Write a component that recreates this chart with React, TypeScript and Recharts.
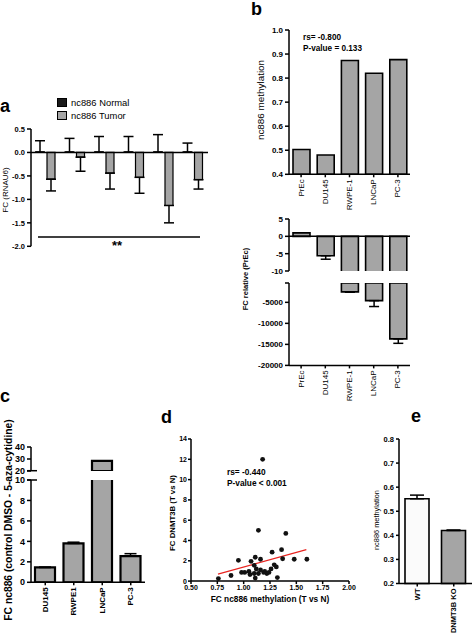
import React from 'react';
import {
  BarChart, Bar, XAxis, YAxis, ErrorBar, ReferenceLine,
  ScatterChart, Scatter, Cell,
} from 'recharts';

// ---------------- data ----------------
// panel a
const aGroups = ['1', '2', '3', '4', '5', '6'];
const aNormal = [0.01, 0.01, 0.01, 0.01, 0.01, 0.01];
const aNormalErr = [0.24, 0.29, 0.33, 0.33, 0.37, 0.19];
const aTumor = [-0.57, -0.10, -0.44, -0.53, -1.13, -0.58];
const aTumorErr = [0.25, 0.30, 0.34, 0.34, 0.37, 0.20];
const aTicks = [0.5, 0, -0.5, -1, -1.5, -2];

// panel b
const bLines = ['PrEc', 'DU145', 'RWPE-1', 'LNCaP', 'PC-3'];
const bMeth = [0.503, 0.48, 0.873, 0.82, 0.877];
const bMethTicks = [0.4, 0.5, 0.6, 0.7, 0.8, 0.9, 1.0];
const bFC = [1.0, -5.6, -2500, -4600, -13700];
const bFCErr = [0, 1.0, 80, 1400, 1050];
const bTopTicks = [-10, -5, 0, 5];
const bBreakTop = -400;
const bBottomTicks = [-20000, -15000, -10000, -5000, bBreakTop];

// panel c
const cLines = ['DU145', 'RWPE1', 'LNCaP', 'PC-3'];
const cFC = [1.45, 3.8, 28.5, 2.55];
const cFCErr = [0.03, 0.12, 0.2, 0.25];
const cTopTicks = [20, 30, 40];
const cBottomTicks = [0, 2, 4, 6, 8, 10];

// panel d
const dMeth = [1.18, 1.14, 1.40, 1.36, 1.27, 1.48, 1.60, 1.37, 1.16, 1.11, 1.07, 0.95, 1.29, 1.10, 1.31, 1.16, 1.12, 1.26, 0.98, 1.01, 1.06, 1.10, 1.14, 1.19, 1.22, 1.24, 0.88, 1.32, 1.11, 0.76, 1.20, 1.05];
const dDnmt = [12.0, 5.0, 4.7, 3.1, 2.85, 2.15, 2.15, 2.2, 2.15, 2.35, 1.95, 2.05, 1.6, 1.55, 1.4, 1.1, 1.2, 1.2, 0.85, 0.85, 0.65, 0.75, 0.75, 0.85, 0.75, 0.85, 0.55, 0.35, 0.3, 0.25, 0.95, 0.95];
const dFit = [{ x: 0.756, y: 0.69 }, { x: 1.595, y: 3.09 }];
const dTicksX = [0.5, 0.75, 1.0, 1.25, 1.5, 1.75, 2.0];
const dTicksY = [0, 2, 4, 6, 8, 10, 12, 14];

// panel e
const eGroups = ['WT', 'DNMT3B KO'];
const eMeth = [0.552, 0.42];
const eErr = [0.015, 0.002];
const eTicks = [0.2, 0.3, 0.4, 0.5, 0.6, 0.7, 0.8];

// ---------------- style helpers ----------------
const FONT = '"Liberation Sans", Arial, Helvetica, sans-serif';
const GRAY = '#a5a5a5';
const AX = { stroke: '#000', strokeWidth: 1.5 };

function box(x0: number, y0: number, x1: number, y1: number, yw: number, xh: number, mb = 0, mt = 8, mr = 8) {
  return {
    left: x0 - yw,
    top: y0 - mt,
    width: x1 - x0 + yw + mr,
    height: y1 - y0 + mt + xh + mb,
    margin: { top: mt, right: mr, bottom: mb, left: 0 },
  };
}

const tickStyle = (fs: number, bold = true) => ({
  fontSize: fs, fontWeight: bold ? 'bold' : 'normal', fill: '#000', fontFamily: FONT,
});

function RotTick(props: any) {
  const { x, y, payload, fs, bold } = props;
  return (
    <text
      x={x}
      y={y}
      transform={`rotate(-90 ${x} ${y})`}
      textAnchor="end"
      dominantBaseline="central"
      fontSize={fs}
      fontWeight={bold ? 'bold' : 'normal'}
      fontFamily={FONT}
      fill="#000"
    >
      {payload.value}
    </text>
  );
}

const Pos = ({ b, children }: any) => (
  <div style={{ position: 'absolute', left: b.left, top: b.top }}>{children}</div>
);

function VLabel({ x, y, text, fs, bold }: any) {
  return (
    <text
      x={x}
      y={y}
      transform={`rotate(-90 ${x} ${y})`}
      textAnchor="middle"
      dominantBaseline="central"
      fontSize={fs}
      fontWeight={bold ? 'bold' : 'normal'}
      fontFamily={FONT}
      fill="#000"
    >
      {text}
    </text>
  );
}

export default function App() {
  // panel a
  const aData = aGroups.map((g, i) => ({
    name: g,
    normal: aNormal[i],
    normalErr: [0, aNormalErr[i]],
    tumor: aTumor[i],
    tumorErr: [aTumorErr[i], 0],
  }));
  const A = box(31, 129, 208, 246.3, 30, 0, 8);

  // panel b
  const bTopData = bLines.map((n, i) => ({ name: n, v: bMeth[i] }));
  const B1 = box(289, 30, 410, 174.3, 30, 40);
  const bUpData = bLines.map((n, i) => ({
    name: n,
    v: bFC[i],
    err: bFC[i] >= bTopTicks[0] && bFCErr[i] > 0 ? [bFCErr[i], 0] : undefined,
  }));
  const B2 = box(289, 219, 410, 271, 30, 0, 6);
  const bLowData = bLines.map((n, i) => ({
    name: n,
    v: bFC[i] < bBreakTop ? bFC[i] : null,
    err: bFC[i] < bBreakTop && bFCErr[i] > 0 ? [bFCErr[i], 0] : undefined,
  }));
  const B3 = box(289, 283.3, 410, 365.7, 40, 45);

  // panel c
  const cUpData = cLines.map((n, i) => ({ name: n, v: cFC[i] >= cTopTicks[0] ? cFC[i] : null }));
  const C1 = box(31, 446.7, 145, 470.7, 30, 0, 6);
  const cLowData = cLines.map((n, i) => ({
    name: n,
    v: cFC[i],
    err: cFC[i] <= cBottomTicks[cBottomTicks.length - 1] ? [0, cFCErr[i]] : undefined,
  }));
  const C2 = box(31, 480, 145, 582.3, 30, 45);

  // panel d
  const dData = dMeth.map((x, i) => ({ x, y: dDnmt[i] }));
  const D = box(190.7, 438.6, 348.7, 580.7, 25, 16);

  // panel e
  const eData = eGroups.map((n, i) => ({ name: n, v: eMeth[i], err: [0, eErr[i]] }));
  const E = box(399, 438.5, 472, 583, 30, 50);

  return (
    <div
      style={{
        position: 'absolute', left: 0, top: 0, width: 473, height: 633,
        background: '#fff', overflow: 'hidden', fontFamily: FONT,
      }}
    >
      {/* ---------- a ---------- */}
      <Pos b={A}>
        <BarChart width={A.width} height={A.height} margin={A.margin} data={aData} barSize={8} barGap={3}>
          <XAxis dataKey="name" hide />
          <YAxis
            type="number" domain={[-2, 0.5]} ticks={aTicks} width={30} interval={0}
            tickFormatter={(v: number) => v.toFixed(1)} tick={tickStyle(7.5)}
            tickSize={4} axisLine={AX} tickLine={AX}
          />
          <Bar dataKey="normal" fill="#1a1a1a" stroke="#000" isAnimationActive={false}>
            <ErrorBar dataKey="normalErr" width={5} stroke="#000" strokeWidth={1.5} />
          </Bar>
          <Bar dataKey="tumor" fill={GRAY} stroke="#000" strokeWidth={1.2} isAnimationActive={false}>
            <ErrorBar dataKey="tumorErr" width={5} stroke="#000" strokeWidth={1.5} />
          </Bar>
          <ReferenceLine y={0} stroke="#000" strokeWidth={1.5} />
        </BarChart>
      </Pos>

      {/* ---------- b top ---------- */}
      <Pos b={B1}>
        <BarChart width={B1.width} height={B1.height} margin={B1.margin} data={bTopData} barSize={17}>
          <XAxis
            dataKey="name" interval={0} height={40} tickSize={3} axisLine={AX} tickLine={AX}
            tick={(p: any) => <RotTick {...p} fs={8} />}
          />
          <YAxis
            type="number" domain={[0.4, 1]} ticks={bMethTicks} width={30} interval={0}
            tickFormatter={(v: number) => v.toFixed(1)} tick={tickStyle(8)}
            tickSize={4} axisLine={AX} tickLine={AX}
          />
          <Bar dataKey="v" fill={GRAY} stroke="#000" strokeWidth={1.6} isAnimationActive={false} />
        </BarChart>
      </Pos>

      {/* ---------- b bottom, upper segment ---------- */}
      <Pos b={B2}>
        <BarChart width={B2.width} height={B2.height} margin={B2.margin} data={bUpData} barSize={17}>
          <XAxis dataKey="name" hide />
          <YAxis
            type="number" domain={[-10, 5]} ticks={bTopTicks} width={30} interval={0} allowDataOverflow
            tick={tickStyle(8)} tickSize={4} axisLine={AX} tickLine={AX}
          />
          <Bar dataKey="v" fill={GRAY} stroke="#000" strokeWidth={1.6} isAnimationActive={false}>
            <ErrorBar dataKey="err" width={5} stroke="#000" strokeWidth={1.5} />
          </Bar>
          <ReferenceLine y={0} stroke="#000" strokeWidth={1.5} />
        </BarChart>
      </Pos>

      {/* ---------- b bottom, lower segment ---------- */}
      <Pos b={B3}>
        <BarChart width={B3.width} height={B3.height} margin={B3.margin} data={bLowData} barSize={17}>
          <XAxis
            dataKey="name" interval={0} height={45} tickSize={3} axisLine={AX} tickLine={AX}
            tick={(p: any) => <RotTick {...p} fs={8} />}
          />
          <YAxis
            type="number" domain={[-20000, bBreakTop]} ticks={bBottomTicks} width={40} interval={0}
            allowDataOverflow tickFormatter={(v: number) => (v === bBreakTop ? '' : String(v))}
            tick={tickStyle(8)} tickSize={4} axisLine={AX} tickLine={AX}
          />
          <Bar dataKey="v" fill={GRAY} stroke="#000" strokeWidth={1.6} isAnimationActive={false}>
            <ErrorBar dataKey="err" width={5} stroke="#000" strokeWidth={1.5} />
          </Bar>
        </BarChart>
      </Pos>

      {/* ---------- c upper ---------- */}
      <Pos b={C1}>
        <BarChart width={C1.width} height={C1.height} margin={C1.margin} data={cUpData} barSize={20}>
          <XAxis dataKey="name" hide />
          <YAxis
            type="number" domain={[20, 40]} ticks={cTopTicks} width={30} interval={0} allowDataOverflow
            tick={tickStyle(9)} tickSize={4} axisLine={AX} tickLine={AX}
          />
          <Bar dataKey="v" fill={GRAY} stroke="#000" strokeWidth={2.2} isAnimationActive={false} />
        </BarChart>
      </Pos>

      {/* ---------- c lower ---------- */}
      <Pos b={C2}>
        <BarChart width={C2.width} height={C2.height} margin={C2.margin} data={cLowData} barSize={20}>
          <XAxis
            dataKey="name" interval={0} height={45} tickSize={3} axisLine={AX} tickLine={AX}
            tick={(p: any) => <RotTick {...p} fs={8} bold />}
          />
          <YAxis
            type="number" domain={[0, 10]} ticks={cBottomTicks} width={30} interval={0} allowDataOverflow
            tick={tickStyle(9)} tickSize={4} axisLine={AX} tickLine={AX}
          />
          <Bar dataKey="v" fill={GRAY} stroke="#000" strokeWidth={2.2} isAnimationActive={false}>
            <ErrorBar dataKey="err" width={6} stroke="#000" strokeWidth={1.5} />
          </Bar>
        </BarChart>
      </Pos>

      {/* ---------- d ---------- */}
      <Pos b={D}>
        <ScatterChart width={D.width} height={D.height} margin={D.margin}>
          <XAxis
            type="number" dataKey="x" domain={[0.5, 2]} ticks={dTicksX} interval={0} height={16}
            tickFormatter={(v: number) => v.toFixed(2)} tick={tickStyle(7)}
            tickSize={3} tickMargin={1} axisLine={AX} tickLine={AX}
          />
          <YAxis
            type="number" dataKey="y" domain={[0, 14]} ticks={dTicksY} width={25} interval={0}
            tick={tickStyle(7)} tickSize={3} tickMargin={1} axisLine={AX} tickLine={AX}
          />
          <Scatter
            data={dData} fill="#111" isAnimationActive={false}
            shape={(p: any) => <circle cx={p.cx} cy={p.cy} r={2.4} fill="#111" />}
          />
          <ReferenceLine segment={dFit} stroke="#e8231f" strokeWidth={1.3} />
        </ScatterChart>
      </Pos>

      {/* ---------- e ---------- */}
      <Pos b={E}>
        <BarChart width={E.width} height={E.height} margin={E.margin} data={eData} barSize={24}>
          <XAxis
            dataKey="name" interval={0} height={50} tickSize={3} axisLine={AX} tickLine={AX}
            tick={(p: any) => <RotTick {...p} fs={7.5} bold />}
          />
          <YAxis
            type="number" domain={[0.2, 0.8]} ticks={eTicks} width={30} interval={0}
            tickFormatter={(v: number) => v.toFixed(1)} tick={tickStyle(7.5)}
            tickSize={3} axisLine={AX} tickLine={AX}
          />
          <Bar dataKey="v" stroke="#000" strokeWidth={1.6} isAnimationActive={false}>
            {eData.map((_, i) => (
              <Cell key={i} fill={i === 0 ? '#fbfbfb' : GRAY} />
            ))}
            <ErrorBar dataKey="err" width={7} stroke="#000" strokeWidth={1.5} />
          </Bar>
        </BarChart>
      </Pos>

      {/* ---------- annotations ---------- */}
      <svg
        width={473} height={633}
        style={{ position: 'absolute', left: 0, top: 0, pointerEvents: 'none' }}
        fontFamily={FONT}
      >
        {/* panel letters */}
        <text x={0} y={112} fontSize={18} fontWeight="bold">a</text>
        <text x={251} y={15} fontSize={18} fontWeight="bold">b</text>
        <text x={0} y={402} fontSize={18} fontWeight="bold">c</text>
        <text x={161} y={423} fontSize={18} fontWeight="bold">d</text>
        <text x={411} y={422} fontSize={18} fontWeight="bold">e</text>

        {/* a legend */}
        <rect x={57.5} y={98.5} width={9} height={8} fill="#1a1a1a" stroke="#000" />
        <text x={71} y={106.3} fontSize={9.4}>nc886 Normal</text>
        <rect x={57.5} y={111.5} width={9} height={8} fill={GRAY} stroke="#000" />
        <text x={71} y={118.8} fontSize={9.4}>nc886 Tumor</text>

        {/* a significance */}
        <line x1={38} y1={237} x2={200} y2={237} stroke="#000" strokeWidth={1.3} />
        <text x={117} y={250} fontSize={13} fontWeight="bold" textAnchor="middle">**</text>

        {/* axis titles */}
        <VLabel x={5.5} y={190} text="FC (RNAU6)" fs={8} />
        <VLabel x={260} y={100} text="nc886 methylation" fs={9.9} />
        <VLabel x={245} y={279} text="FC relative (PrEc)" fs={7.5} bold />
        <VLabel x={8} y={520} text="FC nc886 (control DMSO - 5-aza-cytidine)" fs={10.3} bold />
        <VLabel x={172.5} y={513} text="FC DNMT3B (T vs N)" fs={7.8} bold />
        <VLabel x={376} y={520} text="nc886 methylation" fs={7.4} />
        <text x={270} y={602} fontSize={8.3} fontWeight="bold" textAnchor="middle">
          FC nc886 methylation (T vs N)
        </text>

        {/* stats */}
        <text x={303} y={40.3} fontSize={8.2} fontWeight="bold">rs= -0.800</text>
        <text x={303} y={50.7} fontSize={8.2} fontWeight="bold">P-value = 0.133</text>
        <text x={227} y={475} fontSize={8.3} fontWeight="bold">rs= -0.440</text>
        <text x={227} y={486} fontSize={8.3} fontWeight="bold">P-value &lt; 0.001</text>

        {/* c axis break marks */}
        <line x1={27} y1={470.7} x2={37} y2={470.7} stroke="#000" strokeWidth={1.5} />
        <line x1={27} y1={480} x2={37} y2={480} stroke="#000" strokeWidth={1.5} />
      </svg>
    </div>
  );
}
